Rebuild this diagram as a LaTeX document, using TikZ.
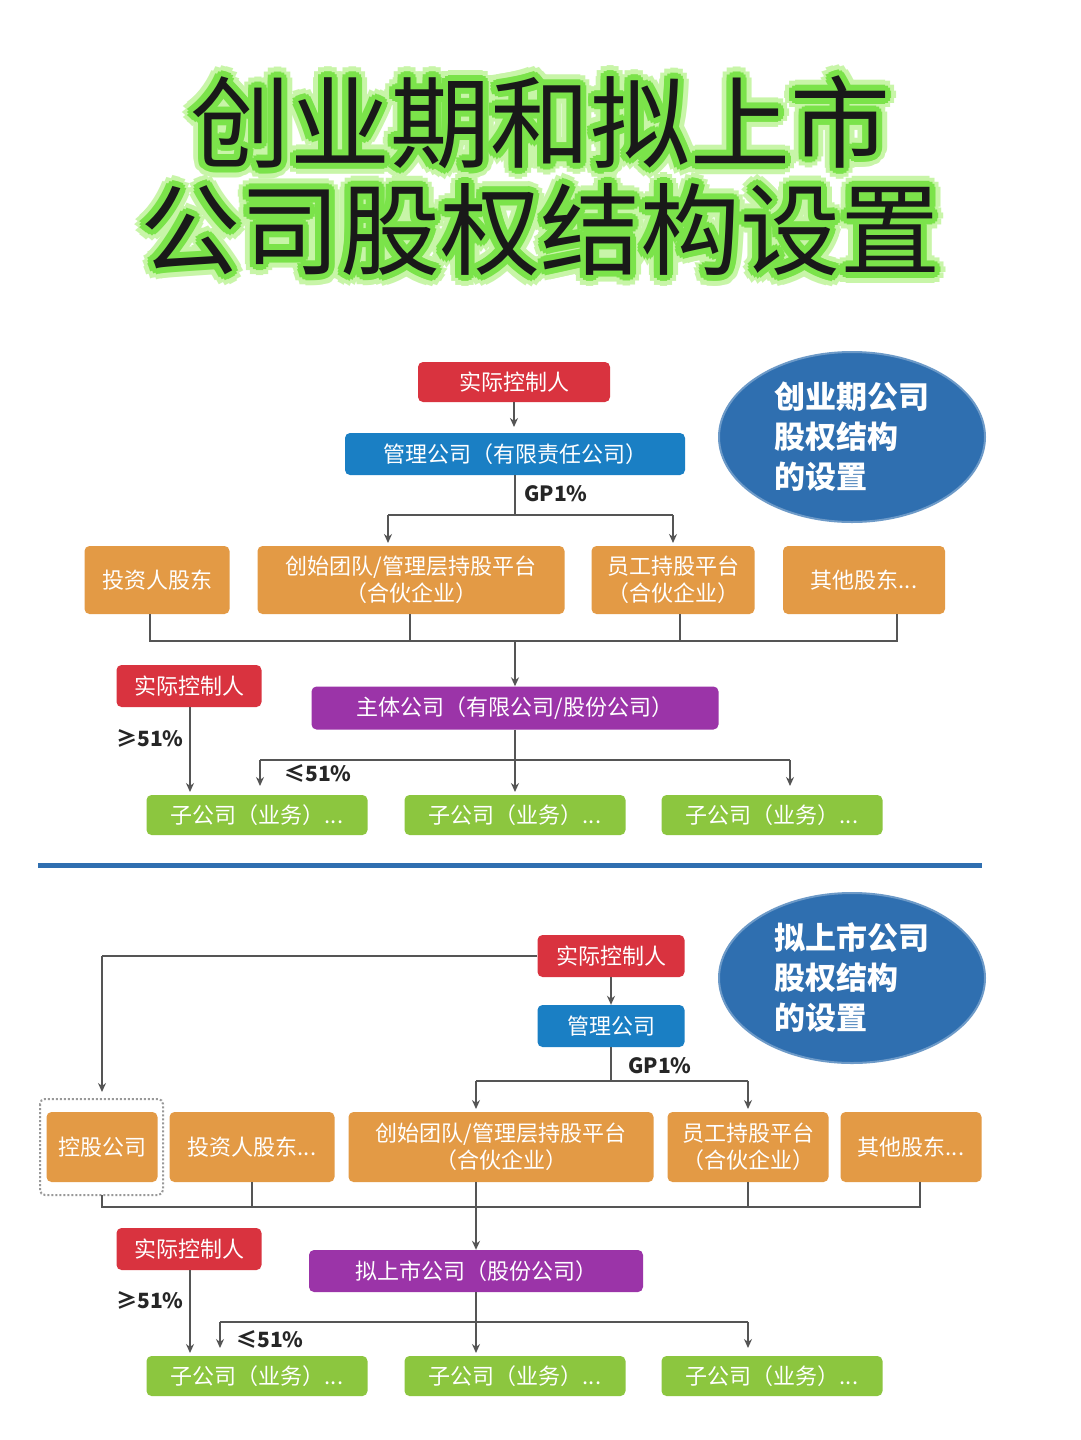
\documentclass[tikz,border=0pt]{standalone}
\usepackage{fontspec}
\newfontfamily\cjk{Noto Sans CJK SC}
\usetikzlibrary{arrows.meta,calc,shapes.geometric}
\definecolor{cred}{HTML}{D9333F}
\definecolor{cblue}{HTML}{1A7FC4}
\definecolor{corange}{HTML}{E39A45}
\definecolor{cpurple}{HTML}{9B34A8}
\definecolor{cgreen}{HTML}{8CC63F}
\definecolor{cell}{HTML}{2F6FB0}
\definecolor{glow}{HTML}{7BE34A}
\definecolor{glow2}{HTML}{C8F5A8}
\definecolor{ln}{HTML}{555555}
\tikzset{
 bx/.style={rounded corners=5pt, fill=#1, text=white, font=\cjk\fontsize{22}{27}\selectfont, inner sep=0pt, align=center},
 lbl/.style={font=\cjk\bfseries\fontsize{21}{24}\selectfont, text=black!85},
 ar/.style={draw=ln, line width=1.6pt, -{Stealth[length=9pt,width=8pt]}},
 li/.style={draw=ln, line width=1.6pt},
 ttl/.style={font=\cjk\fontsize{100}{110}\selectfont},
 ell/.style={ellipse, fill=cell, draw=cell!70!white, line width=2pt, minimum width=266pt, minimum height=170pt, text=white, align=left, font=\cjk\bfseries\fontsize{31}{40}\selectfont}
}
\newcommand{\bxat}[7]{\node[bx=#1, minimum width=#4pt, minimum height=#5pt] (#6) at (#2,#3) {#7};}
\begin{document}
\begin{tikzpicture}[x=1pt,y=-1pt]
\useasboundingbox (0,0) rectangle (1080,1440);
\fill[white] (0,0) rectangle (1080,1440);
% title
\foreach \t/\yy in {创业期和拟上市/122, 公司股权结构设置/230}{
 \foreach \a in {0,30,...,330}{\node[ttl,text=glow2] at ($(540,\yy)+(\a:11)$) {\t};}
 \foreach \a in {0,30,...,330}{\node[ttl,text=glow] at ($(540,\yy)+(\a:6)$) {\t};}
 \node[ttl,text=black!90] at (540,\yy) {\t};
}
% ===== top =====
\node[ell] (e1) at (852,437) {创业期公司\\股权结构\\的设置};
\bxat{cred}{514}{382}{192}{40}{a1}{实际控制人}
\bxat{cblue}{515}{454}{340}{42}{a2}{管理公司（有限责任公司）}
\bxat{corange}{157}{580}{145}{68}{a3}{投资人股东}
\bxat{corange}{411}{580}{307}{68}{a4}{创始团队/管理层持股平台\\（合伙企业）}
\bxat{corange}{673}{580}{163}{68}{a5}{员工持股平台\\（合伙企业）}
\bxat{corange}{864}{580}{162}{68}{a6}{其他股东...}
\bxat{cred}{189}{686}{145}{42}{a7}{实际控制人}
\bxat{cpurple}{515}{708}{407}{43}{a8}{主体公司（有限公司/股份公司）}
\bxat{cgreen}{257}{815}{221}{40}{a9}{子公司（业务）...}
\bxat{cgreen}{515}{815}{221}{40}{a10}{子公司（业务）...}
\bxat{cgreen}{772}{815}{221}{40}{a11}{子公司（业务）...}
\draw[ar] (a1.south) -- (514,427);
\coordinate (t1) at (515,515);
\draw[li] (a2.south) -- (t1);
\draw[ar] (388,515) -- (388,543);
\draw[ar] (673,515) -- (673,543);
\draw[li] (388,515) -- (673,515);
\node[lbl] (g1) at (556,494) {GP1\%};
\coordinate (b1) at (515,641);
\draw[li] (150,614) -- (150,641) -- (897,641) -- (897,614);
\draw[li] (410,614) -- (410,641);
\draw[li] (680,614) -- (680,641);
\draw[ar] (b1) -- (a8.north);
\draw[ar] (190,707) -- (190,792);
\node[lbl] (p1) at (150,738) {≥51\%};
\draw[li] (a8.south) -- (515,760);
\draw[li] (260,760) -- (790,760);
\draw[ar] (260,760) -- (260,786);
\draw[ar] (515,760) -- (515,792);
\draw[ar] (790,760) -- (790,786);
\node[lbl] (p2) at (318,773) {≤51\%};
% separator
\draw[cell, line width=5pt] (38,865) -- (982,865);
% ===== bottom =====
\node[ell] (e2) at (852,978) {拟上市公司\\股权结构\\的设置};
\bxat{cred}{611}{956}{147}{42}{c1}{实际控制人}
\bxat{cblue}{611}{1026}{147}{42}{c2}{管理公司}
\bxat{corange}{102}{1147}{111}{70}{c3}{控股公司}
\draw[ln!60, dotted, line width=2pt, rounded corners=5pt] (40,1099) rectangle (163,1195);
\bxat{corange}{252}{1147}{165}{70}{c4}{投资人股东...}
\bxat{corange}{501}{1147}{305}{70}{c5}{创始团队/管理层持股平台\\（合伙企业）}
\bxat{corange}{748}{1147}{161}{70}{c6}{员工持股平台\\（合伙企业）}
\bxat{corange}{911}{1147}{141}{70}{c7}{其他股东...}
\bxat{cred}{189}{1249}{145}{42}{c8}{实际控制人}
\bxat{cpurple}{476}{1271}{334}{42}{c9}{拟上市公司（股份公司）}
\bxat{cgreen}{257}{1376}{221}{40}{c10}{子公司（业务）...}
\bxat{cgreen}{515}{1376}{221}{40}{c11}{子公司（业务）...}
\bxat{cgreen}{772}{1376}{221}{40}{c12}{子公司（业务）...}
\draw[li] (c1.west) -- (102,956);
\draw[ar] (102,956) -- (102,1092);
\draw[ar] (c1.south) -- (c2.north);
\draw[li] (c2.south) -- (611,1081);
\draw[li] (476,1081) -- (748,1081);
\draw[ar] (476,1081) -- (476,1109);
\draw[ar] (748,1081) -- (748,1109);
\node[lbl] (g2) at (660,1066) {GP1\%};
\draw[li] (102,1195) -- (102,1207) -- (920,1207) -- (920,1182);
\draw[li] (252,1182) -- (252,1207);
\draw[li] (748,1182) -- (748,1207);
\draw[ar] (476,1182) -- (c9.north);
\draw[ar] (190,1270) -- (190,1353);
\node[lbl] (p3) at (150,1300) {≥51\%};
\draw[li] (c9.south) -- (476,1322);
\draw[li] (220,1322) -- (748,1322);
\draw[ar] (220,1322) -- (220,1348);
\draw[ar] (476,1322) -- (476,1353);
\draw[ar] (748,1322) -- (748,1348);
\node[lbl] (p4) at (270,1339) {≤51\%};
\end{tikzpicture}
\end{document}
